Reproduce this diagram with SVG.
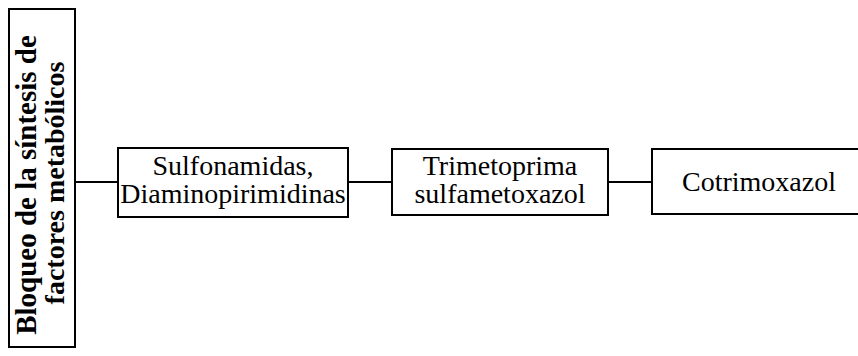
<svg xmlns="http://www.w3.org/2000/svg" width="858" height="356" viewBox="0 0 858 356">
  <style>
    .box { fill: #ffffff; stroke: #000000; stroke-width: 2; }
    .link { stroke: #000000; stroke-width: 2; fill: none; }
  </style>
  <rect x="0" y="0" width="858" height="356" fill="#ffffff"/>

  <!-- connectors between the chain of boxes -->
  <g id="connectors">
    <line class="link" x1="75" y1="182" x2="118" y2="182"/>
    <line class="link" x1="348" y1="182" x2="392" y2="182"/>
    <line class="link" x1="608" y1="182" x2="652" y2="182"/>
  </g>

  <!-- vertical heading box -->
  <g id="bloqueo" font-family="Liberation Serif" font-size="29" font-weight="bold" text-anchor="middle" fill="#000000">
    <rect class="box" x="9" y="9" width="66" height="338"/>
    <text transform="translate(36,185) rotate(-90)">Bloqueo de la síntesis de</text>
    <text transform="translate(64,183) rotate(-90)" font-size="28">factores metabólicos</text>
  </g>

  <g id="sulfonamidas" font-family="Liberation Serif" font-size="28" text-anchor="middle" fill="#000000">
    <rect class="box" x="118" y="148" width="230" height="69"/>
    <text x="233" y="175">Sulfonamidas,</text>
    <text x="233" y="203">Diaminopirimidinas</text>
  </g>

  <g id="trimetoprima" font-family="Liberation Serif" font-size="28" text-anchor="middle" fill="#000000">
    <rect class="box" x="392" y="149" width="216" height="66"/>
    <text x="500" y="175">Trimetoprima</text>
    <text x="500" y="203">sulfametoxazol</text>
  </g>

  <g id="cotrimoxazol" font-family="Liberation Serif" font-size="28" text-anchor="middle" fill="#000000">
    <rect class="box" x="652" y="149" width="210" height="65"/>
    <text x="759" y="191">Cotrimoxazol</text>
  </g>
</svg>
